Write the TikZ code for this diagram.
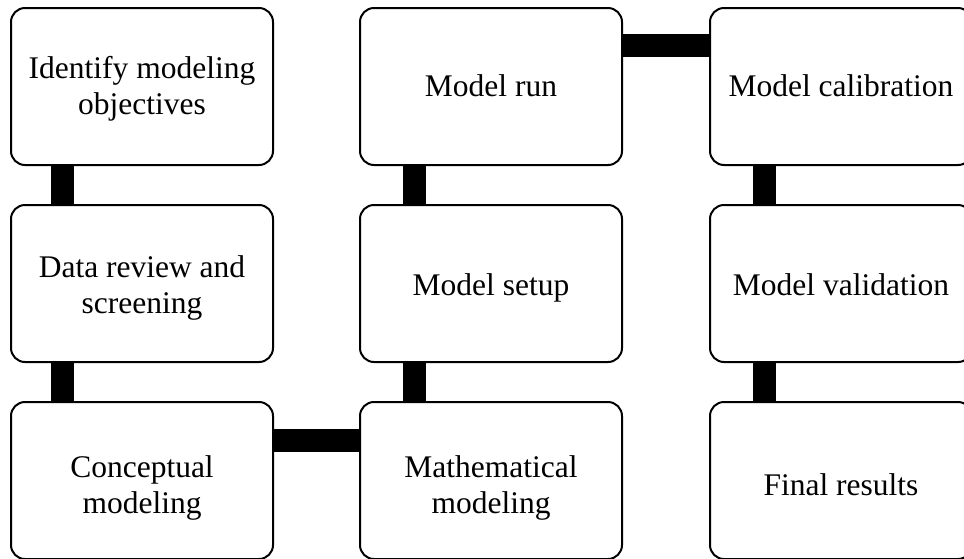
\documentclass[tikz,border=0pt]{standalone}
\usepackage{fontspec}
\setmainfont{Liberation Serif}
\begin{document}
\begin{tikzpicture}[x=1pt,y=1pt,
  stage/.style={draw=black, line width=2pt, rounded corners=14pt,
    minimum width=262pt, minimum height=157pt, inner sep=0pt,
    align=center, font=\fontsize{31.5}{36}\selectfont, text depth=0pt},
  % the last text line sits half of this height below the box centre
  base/.style={text height=#1},
  bar/.style={line width=23pt, line cap=butt, draw=black}]
\useasboundingbox (0,0) rectangle (964,-558);
% stages
\node[stage,base=55pt] (s1) at (142,-86.5) {Identify modeling\\objectives};
\node[stage,base=59pt] (s2) at (142,-283.5) {Data review and\\screening};
\node[stage,base=66pt] (s3) at (142,-480.5) {Conceptual\\modeling};
\node[stage,base=66pt] (s4) at (491,-480.5) {Mathematical\\modeling};
\node[stage,base=23pt] (s5) at (491,-283.5) {Model setup};
\node[stage,base=19pt] (s6) at (491,-86.5) {Model run};
\node[stage,base=19pt] (s7) at (841,-86.5) {Model calibration};
\node[stage,base=23pt] (s8) at (841,-283.5) {Model validation};
\node[stage,base=29pt] (s9) at (841,-480.5) {Final results};
% links between consecutive stages
\draw[bar] ([xshift=52.5pt]s1.south west) -- ([xshift=52.5pt]s2.north west);
\draw[bar] ([xshift=52.5pt]s2.south west) -- ([xshift=52.5pt]s3.north west);
\draw[bar] ([yshift=-39.5pt]s3.north east) -- ([yshift=-39.5pt]s4.north west);
\draw[bar] ([xshift=55pt]s4.north west) -- ([xshift=55pt]s5.south west);
\draw[bar] ([xshift=55pt]s5.north west) -- ([xshift=55pt]s6.south west);
\draw[bar] ([yshift=-38.5pt]s6.north east) -- ([yshift=-38.5pt]s7.north west);
\draw[bar] ([xshift=55pt]s7.south west) -- ([xshift=55pt]s8.north west);
\draw[bar] ([xshift=55pt]s8.south west) -- ([xshift=55pt]s9.north west);
\end{tikzpicture}
\end{document}
